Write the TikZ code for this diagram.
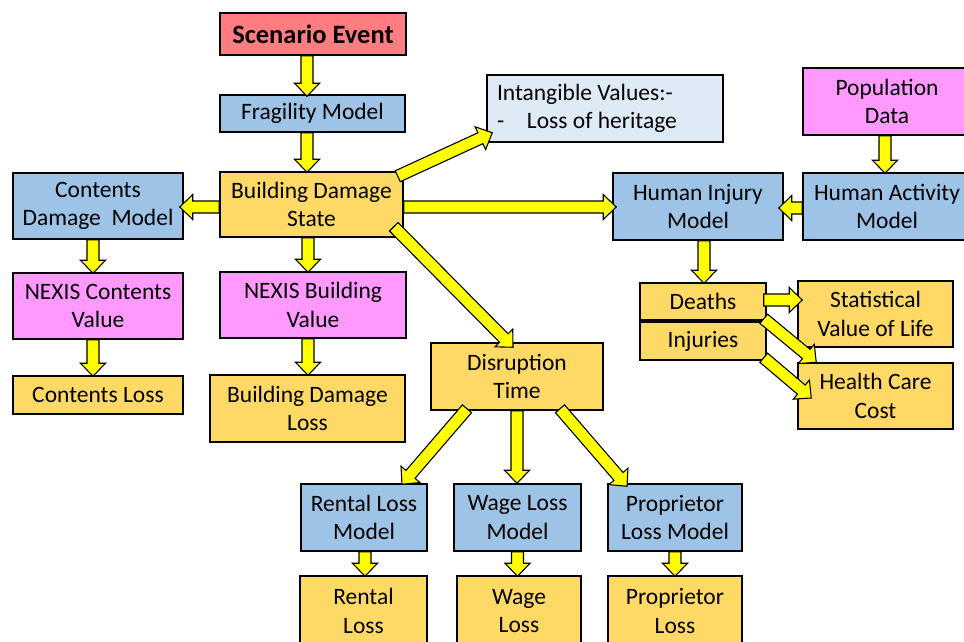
\documentclass[tikz,border=0pt]{standalone}
\usepackage{fontspec}
\setmainfont{Carlito}
\usetikzlibrary{calc}
\definecolor{cblue}{HTML}{9DC3E6}
\definecolor{corange}{HTML}{FFD966}
\definecolor{cpink}{HTML}{FF99FF}
\definecolor{cred}{HTML}{FF7C80}
\definecolor{clight}{HTML}{DEEBF7}
\definecolor{cyel}{HTML}{FFFF00}
\tikzset{
  bx/.style={draw=black, line width=1.5pt, inner sep=0pt, align=center,
    font=\fontsize{23.5}{28.5}\selectfont},
  bluebox/.style={bx, fill=cblue},
  orangebox/.style={bx, fill=corange},
  pinkbox/.style={bx, fill=cpink},
  blockarr/.style={draw=black, line width=1.1pt, fill=cyel, line join=miter},
}
\newcommand\barrow[2]{%
  \path (#1) coordinate (baA) (#2) coordinate (baB);
  \path ($(baB)!13pt!(baA)$) coordinate (baH);
  \draw[blockarr] ($(baA)!6pt!90:(baB)$) -- ($(baH)!6pt!90:(baB)$) -- ($(baH)!12.5pt!90:(baB)$)
    -- (baB) -- ($(baH)!12.5pt!-90:(baB)$) -- ($(baH)!6pt!-90:(baB)$) -- ($(baA)!6pt!-90:(baB)$) -- cycle;
}
\begin{document}
\begin{tikzpicture}[x=1pt,y=-1pt]
\useasboundingbox[fill=white] (0,0) rectangle (964,641);
% nodes
\node[bx, fill=cred, minimum width=186, minimum height=42, font=\fontsize{26.5}{31}\selectfont\bfseries] (scen) at (313,34) {Scenario Event};
\node[bluebox, minimum width=185, minimum height=37] (frag) at (312.5,113.5) {Fragility Model};
\node[orangebox, minimum width=183, minimum height=65] (bds) at (311.5,204.5) {Building Damage\\State};
\node[bluebox, minimum width=170, minimum height=66] (cdm) at (98,206) {Contents\\Damage~~Model};
\node[pinkbox, minimum width=170, minimum height=66] (ncv) at (98,306) {NEXIS Contents\\Value};
\node[orangebox, minimum width=170, minimum height=38] (cl) at (98,395) {Contents Loss};
\node[pinkbox, minimum width=186, minimum height=66] (nbv) at (313,305) {NEXIS Building\\Value};
\node[orangebox, minimum width=195, minimum height=67] (bdl) at (307.5,408.5) {Building Damage\\Loss};
\node[bx, fill=clight, minimum width=236, minimum height=67, align=flush left, text width=216] (intang) at (605,108.5) {Intangible Values:-\\\makebox[30pt][l]{-}Loss of heritage};
\node[bluebox, minimum width=170, minimum height=67] (him) at (698,206.5) {Human Injury\\Model};
\node[pinkbox, minimum width=168, minimum height=67] (pop) at (887,101.5) {Population\\Data};
\node[bluebox, minimum width=168, minimum height=67] (ham) at (887,206.5) {Human Activity\\Model};
\node[orangebox, minimum width=126, minimum height=37] (deaths) at (703,301.5) {Deaths};
\node[orangebox, minimum width=126, minimum height=38] (inj) at (703,341) {Injuries};
\node[orangebox, minimum width=155, minimum height=66] (svl) at (875.5,314) {Statistical\\Value of Life};
\node[orangebox, minimum width=155, minimum height=66] (hcc) at (875.5,396) {Health Care\\Cost};
\node[orangebox, minimum width=172, minimum height=67] (disr) at (517,376.5) {Disruption\\Time};
\node[bluebox, minimum width=126, minimum height=67] (rlm) at (364,517.5) {Rental Loss\\Model};
\node[bluebox, minimum width=127, minimum height=67] (wlm) at (517.5,517.5) {Wage Loss\\Model};
\node[bluebox, minimum width=134, minimum height=67] (plm) at (675,517.5) {Proprietor\\Loss Model};
\node[orangebox, minimum width=127, minimum height=70] (rl) at (363.5,611) {Rental\\Loss};
\node[orangebox, minimum width=124, minimum height=70] (wl) at (519,611) {Wage\\Loss};
\node[orangebox, minimum width=134, minimum height=70] (pl) at (675,611) {Proprietor\\Loss};
% arrows
\barrow{$(scen.south)+(-6,0)$}{$(frag.north)+(-5.5,2)$}
\barrow{$(frag.south)+(-5.5,0)$}{$(bds.north)+(-4.5,1)$}
\barrow{$(bds.west)+(0,2.5)$}{$(cdm.east)+(-4,1)$}
\barrow{$(bds.south)+(-3.5,0)$}{$(nbv.north)+(-5,1)$}
\barrow{$(cdm.south)+(-5,0)$}{$(ncv.north)+(-5,1)$}
\barrow{$(ncv.south)+(-5,0)$}{$(cl.north)+(-5,1)$}
\barrow{$(nbv.south)+(-5,0)$}{$(bdl.north)+(0.5,1)$}
\barrow{$(bds.north east)+(-6,5)$}{$(intang.south west)+(6,-10)$}
\barrow{$(bds.east)+(0,2.5)$}{$(him.west)+(4,0.5)$}
\barrow{$(bds.south east)+(-10,-11)$}{$(disr.north)+(-4,5)$}
\barrow{$(pop.south)+(-2,0)$}{$(ham.north)+(-2,1)$}
\barrow{$(ham.west)+(0,1.5)$}{$(him.east)+(-5,1.5)$}
\barrow{$(him.south)+(6,0)$}{$(deaths.north)+(1,1)$}
\barrow{$(deaths.east)+(-3,-1.5)$}{$(svl.west)+(5,-14)$}
\barrow{$(deaths.south east)+(-3,-2)$}{$(hcc.north west)+(19,0)$}
\barrow{$(inj.south east)+(-3,-3)$}{$(hcc.west)+(14,2)$}
\barrow{$(disr.south)+(-50,-2)$}{$(rlm.north)+(38,1)$}
\barrow{$(disr.south)$}{$(wlm.north)+(-0.5,0)$}
\barrow{$(disr.south)+(43,-2)$}{$(plm.north)+(-48,3)$}
\barrow{$(rlm.south)+(1,0)$}{$(rl.north)+(1.5,1)$}
\barrow{$(wlm.south)$}{$(wl.north)+(-1.5,1)$}
\barrow{$(plm.south)$}{$(pl.north)+(0,1)$}
\end{tikzpicture}
\end{document}
